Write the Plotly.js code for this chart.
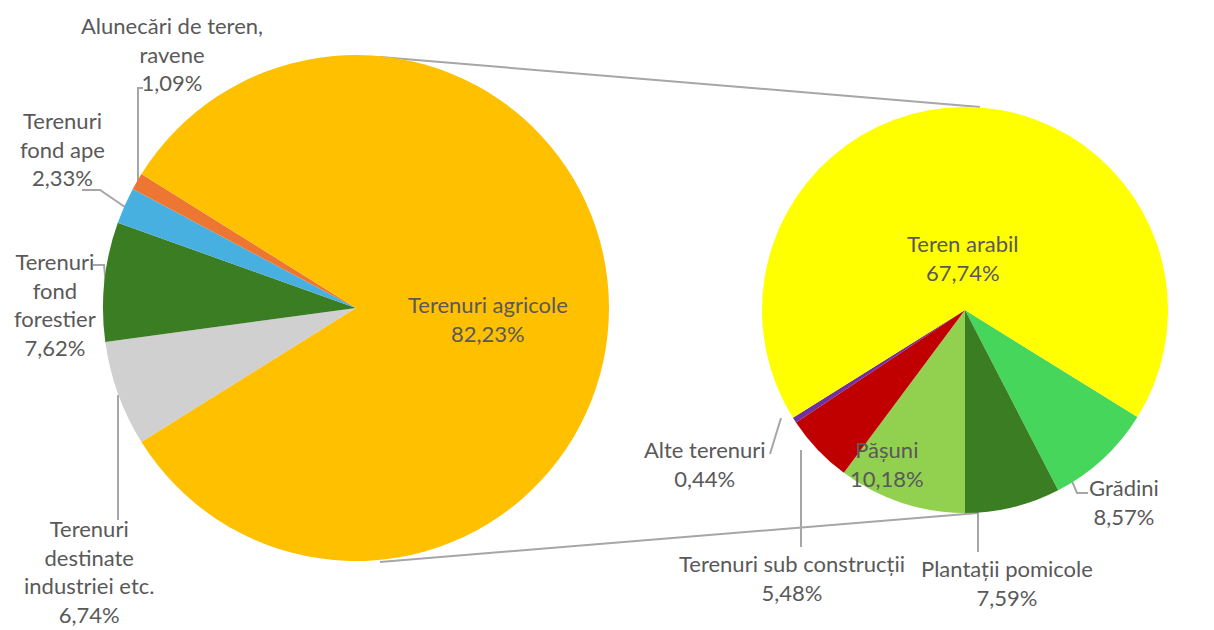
<!DOCTYPE html>
<html>
<head>
<meta charset="utf-8">
<script src="https://cdn.plot.ly/plotly-3.0.1.min.js"></script>
<style>html,body{margin:0;padding:0;background:#fff;}</style>
</head>
<body>
<div id="chart" style="width:1214px;height:630px;"></div>
<script>
// ---- DATA ----
// Main pie (order = drawing order, clockwise)
var mainLabels = ["Terenuri destinate industriei etc.", "Terenuri fond forestier", "Terenuri fond ape", "Alunecări de teren, ravene", "Terenuri agricole"];
var mainValues = [6.74, 7.62, 2.33, 1.09, 82.23];
// Secondary pie: breakdown of "Terenuri agricole" (clockwise)
var subLabels = ["Grădini", "Plantații pomicole", "Pășuni", "Terenuri sub construcții", "Alte terenuri", "Teren arabil"];
var subValues = [8.57, 7.59, 10.18, 5.48, 0.44, 67.74];

// ---- STYLE / LAYOUT ----
var W = 1214, H = 630;
var mainColors = ["#D0D0D0", "#3B7D23", "#48B0E0", "#EC7632", "#FFC000"];
var subColors = ["#47D65C", "#3B7D23", "#92D050", "#C00000", "#7030A0", "#FFFF00"];
var textColor = "#595959";
var lineColor = "#A6A6A6";
var FONT = "Lato, 'Open Sans', sans-serif";
var FS = 22;

function px(x) { return x / W; }
function py(y) { return 1 - y / H; }

var L = {cx: 356, cy: 308, r: 253};
var R = {cx: 965, cy: 310, r: 203};

function sum(a) { return a.reduce(function (s, v) { return s + v; }, 0); }
var mainTotal = sum(mainValues);
var otherShare = (mainTotal - mainValues[4]) / mainTotal;   // non-agricultural part, centred at 9 o'clock
var mainRotation = 270 - 180 * otherShare;
var subTotal = sum(subValues);
var subRotation = 180 - 360 * (subValues[0] + subValues[1]) / subTotal;

function fmt(v) { return v.toFixed(2).replace('.', ',') + '%'; }

var traces = [
  {
    type: 'pie', labels: mainLabels, values: mainValues, sort: false,
    direction: 'clockwise', rotation: mainRotation,
    marker: {colors: mainColors, line: {width: 0}},
    textinfo: 'none', hoverinfo: 'label+percent', showlegend: false,
    domain: {x: [px(L.cx - L.r), px(L.cx + L.r)], y: [py(L.cy + L.r), py(L.cy - L.r)]}
  },
  {
    type: 'pie', labels: subLabels, values: subValues, sort: false,
    direction: 'clockwise', rotation: subRotation,
    marker: {colors: subColors, line: {width: 0}},
    textinfo: 'none', hoverinfo: 'label+percent', showlegend: false,
    domain: {x: [px(R.cx - R.r), px(R.cx + R.r)], y: [py(R.cy + R.r), py(R.cy - R.r)]}
  }
];

// label placement: [lines of label, centre x, centre y]
var mainWrap = [
  [["Terenuri", "destinate", "industriei etc."], 89, 571],
  [["Terenuri", "fond", "forestier"], 55, 304],
  [["Terenuri", "fond ape"], 62, 149],
  [["Alunecări de teren,", "ravene"], 172, 54],
  [["Terenuri agricole"], 488, 319]
];
var subWrap = [
  [["Grădini"], 1124, 502],
  [["Plantații pomicole"], 1007, 583],
  [["Pășuni"], 887, 464],
  [["Terenuri sub construcții"], 792, 578],
  [["Alte terenuri"], 705, 464],
  [["Teren arabil"], 963, 258]
];

var annotations = [];
function addLabels(wrap, values) {
  wrap.forEach(function (w, i) {
    annotations.push({
      xref: 'paper', yref: 'paper', x: px(w[1]), y: py(w[2]),
      xanchor: 'center', yanchor: 'middle', align: 'center', showarrow: false,
      text: w[0].join('<br>') + '<br>' + fmt(values[i]),
      font: {family: FONT, size: FS, color: textColor}
    });
  });
}
addLabels(mainWrap, mainValues);
addLabels(subWrap, subValues);

// leader lines & connector lines (pixel polylines)
var polylines = [
  [[143, 88], [138, 88], [138, 182]],
  [[82, 190], [100, 190], [125, 207]],
  [[93, 265], [104, 265], [106, 285]],
  [[118, 395], [118, 520]],
  [[770, 454], [781, 418]],
  [[801, 450], [801, 547]],
  [[978, 507], [978, 552]],
  [[1062, 458], [1077, 493], [1088, 493]],
  [[380, 57], [980, 107]],
  [[380, 562], [978, 513]]
];
var shapes = polylines.map(function (p) {
  var d = p.map(function (pt, i) { return (i ? 'L' : 'M') + px(pt[0]) + ',' + py(pt[1]); }).join(' ');
  return {type: 'path', xref: 'paper', yref: 'paper', path: d, line: {color: lineColor, width: 2}, layer: 'below'};
});

var layout = {
  width: W, height: H,
  margin: {l: 0, r: 0, t: 0, b: 0},
  paper_bgcolor: '#ffffff', plot_bgcolor: '#ffffff',
  separators: ', ',
  font: {family: FONT, color: textColor},
  showlegend: false,
  annotations: annotations,
  shapes: shapes
};

Plotly.newPlot('chart', traces, layout, {displayModeBar: false, staticPlot: true});
</script>
</body>
</html>
